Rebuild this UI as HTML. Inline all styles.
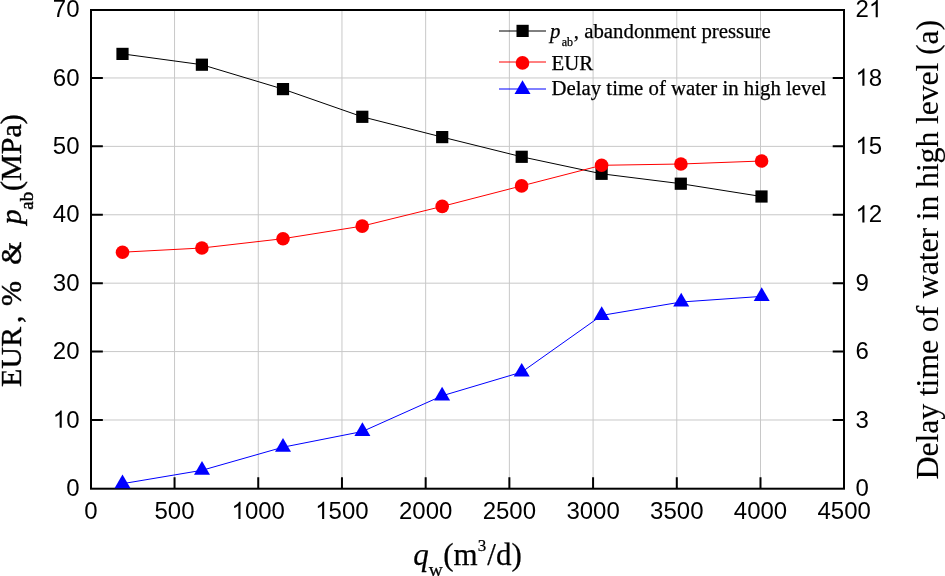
<!DOCTYPE html><html><head><meta charset="utf-8"><style>html,body{margin:0;padding:0;background:#fff;width:945px;height:576px;overflow:hidden}svg{display:block;will-change:transform}</style></head><body>
<svg width="945" height="576" viewBox="0 0 945 576">
<rect width="945" height="576" fill="#fff"/>
<path d="M174.55 9.6V488.4M258.25 9.6V488.4M341.96 9.6V488.4M425.67 9.6V488.4M509.37 9.6V488.4M593.08 9.6V488.4M676.79 9.6V488.4M760.49 9.6V488.4M90.84 419.99H844.2M90.84 351.59H844.2M90.84 283.18H844.2M90.84 214.77H844.2M90.84 146.36H844.2M90.84 77.96H844.2" stroke="#c8c8c8" stroke-width="1" fill="none"/>
<path d="M174.55 488.7v-11.5M258.25 488.7v-11.5M341.96 488.7v-11.5M425.67 488.7v-11.5M509.37 488.7v-11.5M593.08 488.7v-11.5M676.79 488.7v-11.5M760.49 488.7v-11.5M90.84 419.99h12M844.2 419.99h-11.5M90.84 351.59h12M844.2 351.59h-11.5M90.84 283.18h12M844.2 283.18h-11.5M90.84 214.77h12M844.2 214.77h-11.5M90.84 146.36h12M844.2 146.36h-11.5M90.84 77.96h12M844.2 77.96h-11.5" stroke="#000" stroke-width="2" fill="none"/>
<rect x="91" y="10" width="753" height="478.7" fill="none" stroke="#000" stroke-width="2"/>
<path d="M122.5 53.9 L201.9 64.7 L283.0 89.1 L362.3 116.8 L442.2 137.1 L521.7 156.8 L601.6 173.8 L680.8 183.7 L761.5 196.5" stroke="#000" stroke-width="1" fill="none"/>
<rect x="116.40" y="47.80" width="12.2" height="12.2" fill="#000"/>
<rect x="195.80" y="58.60" width="12.2" height="12.2" fill="#000"/>
<rect x="276.90" y="83.00" width="12.2" height="12.2" fill="#000"/>
<rect x="356.20" y="110.70" width="12.2" height="12.2" fill="#000"/>
<rect x="436.10" y="131.00" width="12.2" height="12.2" fill="#000"/>
<rect x="515.60" y="150.70" width="12.2" height="12.2" fill="#000"/>
<rect x="595.50" y="167.70" width="12.2" height="12.2" fill="#000"/>
<rect x="674.70" y="177.60" width="12.2" height="12.2" fill="#000"/>
<rect x="755.40" y="190.40" width="12.2" height="12.2" fill="#000"/>
<path d="M122.5 252.2 L201.9 248.0 L283.0 238.7 L362.2 226.1 L442.2 206.4 L521.6 185.9 L601.6 165.3 L680.9 164.0 L761.6 161.0" stroke="#f00" stroke-width="1" fill="none"/>
<circle cx="122.5" cy="252.2" r="6.8" fill="#f00"/>
<circle cx="201.9" cy="248" r="6.8" fill="#f00"/>
<circle cx="283" cy="238.7" r="6.8" fill="#f00"/>
<circle cx="362.2" cy="226.1" r="6.8" fill="#f00"/>
<circle cx="442.2" cy="206.4" r="6.8" fill="#f00"/>
<circle cx="521.6" cy="185.9" r="6.8" fill="#f00"/>
<circle cx="601.6" cy="165.3" r="6.8" fill="#f00"/>
<circle cx="680.9" cy="164" r="6.8" fill="#f00"/>
<circle cx="761.6" cy="161" r="6.8" fill="#f00"/>
<path d="M122.5 483.7 L202.0 470.3 L283.0 447.2 L362.4 431.5 L442.1 395.8 L521.7 372.1 L601.7 315.4 L681.2 302.0 L761.7 296.4" stroke="#00f" stroke-width="1" fill="none"/>
<path d="M122.50 474.50L130.50 488.20L114.50 488.20Z" fill="#00f"/>
<path d="M202.00 461.10L210.00 474.80L194.00 474.80Z" fill="#00f"/>
<path d="M283.00 438.10L291.00 451.80L275.00 451.80Z" fill="#00f"/>
<path d="M362.40 422.30L370.40 436.00L354.40 436.00Z" fill="#00f"/>
<path d="M442.10 386.70L450.10 400.40L434.10 400.40Z" fill="#00f"/>
<path d="M521.70 362.90L529.70 376.60L513.70 376.60Z" fill="#00f"/>
<path d="M601.70 306.20L609.70 319.90L593.70 319.90Z" fill="#00f"/>
<path d="M681.20 292.80L689.20 306.50L673.20 306.50Z" fill="#00f"/>
<path d="M761.70 287.30L769.70 301.00L753.70 301.00Z" fill="#00f"/>
<defs><path id="one" d="M763 0H583V1147Q518 1085 412 1023Q306 961 221 930V1104Q372 1175 485 1276Q598 1377 645 1472H763Z"/></defs>
<g font-family="Liberation Sans, sans-serif" font-size="24" fill="#000">
<text x="84.17" y="519.00">0</text>
<text x="154.53" y="519.00">5</text><text x="167.87" y="519.00">0</text><text x="181.22" y="519.00">0</text>
<use href="#one" transform="translate(231.56,519.00) scale(0.01172,-0.01172)"/><text x="244.91" y="519.00">0</text><text x="258.25" y="519.00">0</text><text x="271.60" y="519.00">0</text>
<use href="#one" transform="translate(315.26,519.00) scale(0.01172,-0.01172)"/><text x="328.61" y="519.00">5</text><text x="341.96" y="519.00">0</text><text x="355.31" y="519.00">0</text>
<text x="398.97" y="519.00">2</text><text x="412.32" y="519.00">0</text><text x="425.67" y="519.00">0</text><text x="439.01" y="519.00">0</text>
<text x="482.68" y="519.00">2</text><text x="496.03" y="519.00">5</text><text x="509.37" y="519.00">0</text><text x="522.72" y="519.00">0</text>
<text x="566.38" y="519.00">3</text><text x="579.73" y="519.00">0</text><text x="593.08" y="519.00">0</text><text x="606.43" y="519.00">0</text>
<text x="650.09" y="519.00">3</text><text x="663.44" y="519.00">5</text><text x="676.79" y="519.00">0</text><text x="690.13" y="519.00">0</text>
<text x="733.80" y="519.00">4</text><text x="747.15" y="519.00">0</text><text x="760.49" y="519.00">0</text><text x="773.84" y="519.00">0</text>
<text x="817.50" y="519.00">4</text><text x="830.85" y="519.00">5</text><text x="844.20" y="519.00">0</text><text x="857.55" y="519.00">0</text>
<text x="66.15" y="496.10">0</text>
<use href="#one" transform="translate(52.80,427.69) scale(0.01172,-0.01172)"/><text x="66.15" y="427.69">0</text>
<text x="52.80" y="359.29">2</text><text x="66.15" y="359.29">0</text>
<text x="52.80" y="290.88">3</text><text x="66.15" y="290.88">0</text>
<text x="52.80" y="222.47">4</text><text x="66.15" y="222.47">0</text>
<text x="52.80" y="154.06">5</text><text x="66.15" y="154.06">0</text>
<text x="52.80" y="85.66">6</text><text x="66.15" y="85.66">0</text>
<text x="52.80" y="17.25">7</text><text x="66.15" y="17.25">0</text>
<text x="855.50" y="496.10">0</text>
<text x="855.50" y="427.69">3</text>
<text x="855.50" y="359.29">6</text>
<text x="855.50" y="290.88">9</text>
<use href="#one" transform="translate(855.50,222.47) scale(0.01172,-0.01172)"/><text x="868.85" y="222.47">2</text>
<use href="#one" transform="translate(855.50,154.06) scale(0.01172,-0.01172)"/><text x="868.85" y="154.06">5</text>
<use href="#one" transform="translate(855.50,85.66) scale(0.01172,-0.01172)"/><text x="868.85" y="85.66">8</text>
<text x="855.50" y="17.25">2</text><use href="#one" transform="translate(868.85,17.25) scale(0.01172,-0.01172)"/>
</g>
<g font-family="Liberation Serif, serif" fill="#000">
<text transform="translate(21.3,387) rotate(-90)" font-size="30" stroke="#000" stroke-width="0.4">EUR<tspan dx="4">,</tspan><tspan dx="2"> %</tspan><tspan dx="16.1">&amp;</tspan><tspan dx="17.4" font-style="italic">p</tspan><tspan font-size="19" dy="11.3" dx="-0.5">ab</tspan><tspan dy="-11.3" dx="0.8">(MPa)</tspan></text>
<text id="rt" stroke="#000" stroke-width="0.12" transform="translate(938.2,479.4) rotate(-90)" font-size="32" textLength="459.6" lengthAdjust="spacing">Delay time of water in high level (a)</text>
<text x="413.3" y="564.5" font-size="31" stroke="#000" stroke-width="0.25"><tspan font-style="italic">q</tspan><tspan font-size="19.5" dy="11.5">w</tspan><tspan dy="-11.5" dx="0.3">(m</tspan><tspan font-size="17" dy="-13.2">3</tspan><tspan dy="13.2" dx="1.2">/d)</tspan></text>
</g>
<g>
<path d="M499 31H546" stroke="#000" stroke-width="1"/>
<rect x="516.50" y="24.80" width="12.2" height="12.2" fill="#000"/>
<path d="M499 62H546" stroke="#f00" stroke-width="1"/>
<circle cx="522.5" cy="62.9" r="6.8" fill="#f00"/>
<path d="M499 89H546" stroke="#00f" stroke-width="1"/>
<path d="M522.5 80.2L530.50 93.90L514.50 93.90Z" fill="#00f"/>
<g font-family="Liberation Serif, serif" font-size="20.8" fill="#000" stroke="#000" stroke-width="0.25">
<text id="lg1" x="550" y="38"><tspan font-style="italic">p</tspan><tspan font-size="12" dy="7.6" dx="1.3">ab</tspan><tspan dy="-7.6" dx="0.8">, abandonment pressure</tspan></text>
<text x="551.5" y="69.8">EUR</text>
<text id="lg3" x="551.5" y="95.2">Delay time of water in high level</text>
</g></g>
</svg></body></html>
